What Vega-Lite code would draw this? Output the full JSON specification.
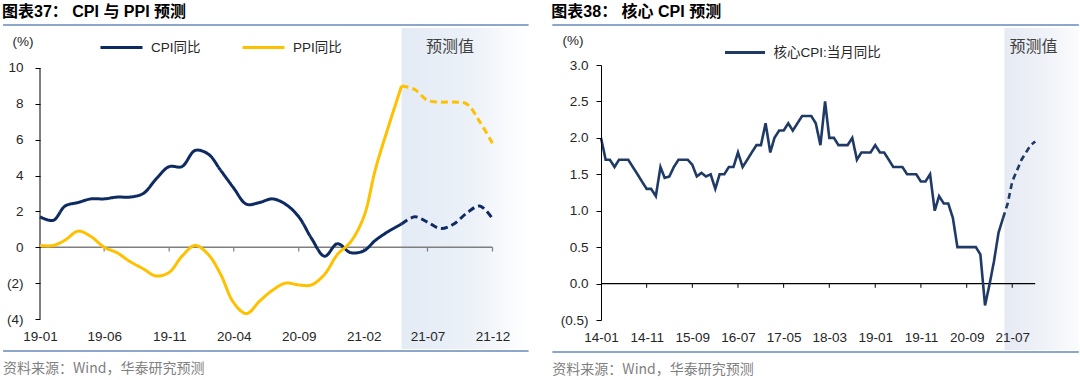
{
  "$schema": "https://vega.github.io/schema/vega-lite/v6.json",
  "padding": {"left": 2, "top": 3, "right": 0, "bottom": 0},
  "spacing": 21,
  "config": {
    "view": {"stroke": null},
    "font": "'Liberation Sans', 'Noto Sans CJK SC', sans-serif",
    "axis": {"grid": false, "labelFontSize": 13.5, "labelColor": "#262626", "labelFont": "'Liberation Sans', sans-serif", "labelOverlap": false},
    "axisX": {"domain": false, "ticks": false, "labelPadding": 10, "labelFlush": false},
    "axisY": {"domainColor": "#000000", "domainWidth": 1, "tickColor": "#000000", "tickSize": 5, "tickWidth": 1, "titleAngle": 0, "titleAlign": "center", "titleBaseline": "middle", "titleFontWeight": "normal", "titleFontSize": 13.5, "titleColor": "#262626", "titleFont": "'Liberation Sans', sans-serif"},
    "legend": {"labelFontSize": 13.5, "labelColor": "#262626", "labelFont": "'Liberation Sans', 'Noto Sans CJK SC', sans-serif", "symbolType": "stroke", "symbolStrokeWidth": 3, "labelOffset": 7, "orient": "none", "direction": "horizontal"},
    "title": {"anchor": "start", "frame": "bounds", "fontSize": 16, "fontWeight": "bold", "color": "#000000", "offset": 4, "font": "'Liberation Sans', 'Noto Sans CJK SC', sans-serif"}
  },
  "resolve": {"scale": {"x": "independent", "y": "independent", "color": "independent", "strokeDash": "independent"}, "legend": {"color": "independent"}},
  "hconcat": [
    {
      "width": 452.5,
      "height": 254,
      "title": {"text": "图表37：   CPI 与 PPI 预测"},
      "layer": [
        {
          "data": {"values": [{"a": "2021/05/01", "b": "2022/02/20", "top": 12.23, "bot": -5.67}]},
          "mark": {"type": "rect", "clip": false, "fill": {"gradient": "linear", "x1": 0, "y1": 0, "x2": 1, "y2": 0, "stops": [{"offset": 0, "color": "#e3ebf5"}, {"offset": 0.55, "color": "#ecf1f8"}, {"offset": 1, "color": "#ffffff"}]}},
          "encoding": {
            "x": {"field": "a", "type": "temporal", "scale": {"domain": [{"year": 2019, "month": 1, "date": 1}, {"year": 2021, "month": 12, "date": 1}]}},
            "x2": {"field": "b"},
            "y": {"field": "top", "type": "quantitative", "scale": {"domain": [-4, 10.167]}},
            "y2": {"field": "bot"}
          }
        },
        {
          "data": {"values": [{"a": "2018/10/06", "b": "2022/02/24", "y": 12.40}, {"a": "2018/10/06", "b": "2022/02/24", "y": -5.785}]},
          "mark": {"type": "rule", "clip": false, "color": "#8ca7c9", "strokeWidth": 2},
          "encoding": {
            "x": {"field": "a", "type": "temporal", "scale": {"domain": [{"year": 2019, "month": 1, "date": 1}, {"year": 2021, "month": 12, "date": 1}]}},
            "x2": {"field": "b"},
            "y": {"field": "y", "type": "quantitative", "scale": {"domain": [-4, 10.167]}}
          }
        },
        {
          "data": {"values": [{"a": "2019/01/01", "b": "2021/12/01", "y": 0}]},
          "mark": {"type": "rule", "clip": false, "color": "#7f7f7f", "strokeWidth": 1.6},
          "encoding": {
            "x": {"field": "a", "type": "temporal", "scale": {"domain": [{"year": 2019, "month": 1, "date": 1}, {"year": 2021, "month": 12, "date": 1}]}},
            "x2": {"field": "b"},
            "y": {"field": "y", "type": "quantitative", "scale": {"domain": [-4, 10.167]}}
          }
        },
        {
          "data": {"values": [{"d": "2019/01/01", "lo": -4, "hi": 10}]},
          "mark": {"type": "rule", "clip": false, "color": "#000000", "strokeWidth": 1},
          "encoding": {
            "x": {"field": "d", "type": "temporal", "scale": {"domain": [{"year": 2019, "month": 1, "date": 1}, {"year": 2021, "month": 12, "date": 1}]}},
            "y": {"field": "lo", "type": "quantitative", "scale": {"domain": [-4, 10.167]}},
            "y2": {"field": "hi"}
          }
        },
        {
          "data": {"values": [{"d": "2019/06/01"}, {"d": "2019/11/01"}, {"d": "2020/04/01"}, {"d": "2020/09/01"}, {"d": "2021/02/01"}, {"d": "2021/07/01"}, {"d": "2021/12/01"}]},
          "mark": {"type": "rule", "clip": false, "color": "#7f7f7f", "strokeWidth": 1.2},
          "encoding": {
            "x": {"field": "d", "type": "temporal", "scale": {"domain": [{"year": 2019, "month": 1, "date": 1}, {"year": 2021, "month": 12, "date": 1}]}},
            "y": {"datum": 0, "type": "quantitative", "scale": {"domain": [-4, 10.167]}},
            "y2": {"datum": -0.24}
          }
        },
        {
          "data": {"values": [
            {"s": "CPI同比", "g": "a", "d": "2019/01/01", "v": 1.7}, {"s": "CPI同比", "g": "a", "d": "2019/02/01", "v": 1.5}, {"s": "CPI同比", "g": "a", "d": "2019/03/01", "v": 2.3}, {"s": "CPI同比", "g": "a", "d": "2019/04/01", "v": 2.5}, {"s": "CPI同比", "g": "a", "d": "2019/05/01", "v": 2.7}, {"s": "CPI同比", "g": "a", "d": "2019/06/01", "v": 2.7}, {"s": "CPI同比", "g": "a", "d": "2019/07/01", "v": 2.8}, {"s": "CPI同比", "g": "a", "d": "2019/08/01", "v": 2.8}, {"s": "CPI同比", "g": "a", "d": "2019/09/01", "v": 3.0}, {"s": "CPI同比", "g": "a", "d": "2019/10/01", "v": 3.8}, {"s": "CPI同比", "g": "a", "d": "2019/11/01", "v": 4.5}, {"s": "CPI同比", "g": "a", "d": "2019/12/01", "v": 4.5},
            {"s": "CPI同比", "g": "a", "d": "2020/01/01", "v": 5.4}, {"s": "CPI同比", "g": "a", "d": "2020/02/01", "v": 5.2}, {"s": "CPI同比", "g": "a", "d": "2020/03/01", "v": 4.3}, {"s": "CPI同比", "g": "a", "d": "2020/04/01", "v": 3.3}, {"s": "CPI同比", "g": "a", "d": "2020/05/01", "v": 2.4}, {"s": "CPI同比", "g": "a", "d": "2020/06/01", "v": 2.5}, {"s": "CPI同比", "g": "a", "d": "2020/07/01", "v": 2.7}, {"s": "CPI同比", "g": "a", "d": "2020/08/01", "v": 2.4}, {"s": "CPI同比", "g": "a", "d": "2020/09/01", "v": 1.7}, {"s": "CPI同比", "g": "a", "d": "2020/10/01", "v": 0.5}, {"s": "CPI同比", "g": "a", "d": "2020/11/01", "v": -0.5}, {"s": "CPI同比", "g": "a", "d": "2020/12/01", "v": 0.2},
            {"s": "CPI同比", "g": "a", "d": "2021/01/01", "v": -0.3}, {"s": "CPI同比", "g": "a", "d": "2021/02/01", "v": -0.2}, {"s": "CPI同比", "g": "a", "d": "2021/03/01", "v": 0.4}, {"s": "CPI同比", "g": "a", "d": "2021/04/01", "v": 0.9}, {"s": "CPI同比", "g": "a", "d": "2021/05/01", "v": 1.3},
            {"s": "CPI同比", "g": "f", "d": "2021/05/01", "v": 1.3}, {"s": "CPI同比", "g": "f", "d": "2021/06/01", "v": 1.7}, {"s": "CPI同比", "g": "f", "d": "2021/07/01", "v": 1.4}, {"s": "CPI同比", "g": "f", "d": "2021/08/01", "v": 1.05}, {"s": "CPI同比", "g": "f", "d": "2021/09/01", "v": 1.3}, {"s": "CPI同比", "g": "f", "d": "2021/10/01", "v": 1.9}, {"s": "CPI同比", "g": "f", "d": "2021/11/01", "v": 2.3}, {"s": "CPI同比", "g": "f", "d": "2021/12/01", "v": 1.6},
            {"s": "PPI同比", "g": "a", "d": "2019/01/01", "v": 0.1}, {"s": "PPI同比", "g": "a", "d": "2019/02/01", "v": 0.1}, {"s": "PPI同比", "g": "a", "d": "2019/03/01", "v": 0.4}, {"s": "PPI同比", "g": "a", "d": "2019/04/01", "v": 0.9}, {"s": "PPI同比", "g": "a", "d": "2019/05/01", "v": 0.6}, {"s": "PPI同比", "g": "a", "d": "2019/06/01", "v": 0.0}, {"s": "PPI同比", "g": "a", "d": "2019/07/01", "v": -0.3}, {"s": "PPI同比", "g": "a", "d": "2019/08/01", "v": -0.8}, {"s": "PPI同比", "g": "a", "d": "2019/09/01", "v": -1.2}, {"s": "PPI同比", "g": "a", "d": "2019/10/01", "v": -1.6}, {"s": "PPI同比", "g": "a", "d": "2019/11/01", "v": -1.4}, {"s": "PPI同比", "g": "a", "d": "2019/12/01", "v": -0.5},
            {"s": "PPI同比", "g": "a", "d": "2020/01/01", "v": 0.1}, {"s": "PPI同比", "g": "a", "d": "2020/02/01", "v": -0.4}, {"s": "PPI同比", "g": "a", "d": "2020/03/01", "v": -1.5}, {"s": "PPI同比", "g": "a", "d": "2020/04/01", "v": -3.1}, {"s": "PPI同比", "g": "a", "d": "2020/05/01", "v": -3.7}, {"s": "PPI同比", "g": "a", "d": "2020/06/01", "v": -3.0}, {"s": "PPI同比", "g": "a", "d": "2020/07/01", "v": -2.4}, {"s": "PPI同比", "g": "a", "d": "2020/08/01", "v": -2.0}, {"s": "PPI同比", "g": "a", "d": "2020/09/01", "v": -2.1}, {"s": "PPI同比", "g": "a", "d": "2020/10/01", "v": -2.1}, {"s": "PPI同比", "g": "a", "d": "2020/11/01", "v": -1.5}, {"s": "PPI同比", "g": "a", "d": "2020/12/01", "v": -0.4},
            {"s": "PPI同比", "g": "a", "d": "2021/01/01", "v": 0.3}, {"s": "PPI同比", "g": "a", "d": "2021/02/01", "v": 1.7}, {"s": "PPI同比", "g": "a", "d": "2021/03/01", "v": 4.4}, {"s": "PPI同比", "g": "a", "d": "2021/04/01", "v": 6.8}, {"s": "PPI同比", "g": "a", "d": "2021/05/01", "v": 9.0},
            {"s": "PPI同比", "g": "f", "d": "2021/05/01", "v": 9.0}, {"s": "PPI同比", "g": "f", "d": "2021/06/01", "v": 8.8}, {"s": "PPI同比", "g": "f", "d": "2021/07/01", "v": 8.2}, {"s": "PPI同比", "g": "f", "d": "2021/08/01", "v": 8.1}, {"s": "PPI同比", "g": "f", "d": "2021/09/01", "v": 8.1}, {"s": "PPI同比", "g": "f", "d": "2021/10/01", "v": 8.0}, {"s": "PPI同比", "g": "f", "d": "2021/11/01", "v": 7.0}, {"s": "PPI同比", "g": "f", "d": "2021/12/01", "v": 5.8}
          ]},
          "mark": {"type": "line", "strokeWidth": 3, "interpolate": "catmull-rom", "clip": false},
          "encoding": {
            "x": {"field": "d", "type": "temporal", "scale": {"domain": [{"year": 2019, "month": 1, "date": 1}, {"year": 2021, "month": 12, "date": 1}]},
                  "axis": {"title": null, "zindex": 1, "tickCount": 40, "labelOverlap": false, "format": "%y-%m", "values": [{"year": 2019, "month": 1, "date": 1}, {"year": 2019, "month": 6, "date": 1}, {"year": 2019, "month": 11, "date": 1}, {"year": 2020, "month": 4, "date": 1}, {"year": 2020, "month": 9, "date": 1}, {"year": 2021, "month": 2, "date": 1}, {"year": 2021, "month": 7, "date": 1}, {"year": 2021, "month": 12, "date": 1}]}},
            "y": {"field": "v", "type": "quantitative", "scale": {"domain": [-4, 10.167]},
                  "axis": {"title": "(%)", "domain": false, "zindex": 1, "tickCount": 40, "titleX": -17.5, "titleY": -24, "values": [-4, -2, 0, 2, 4, 6, 8, 10], "labelPadding": 12, "labelOverlap": false, "labelExpr": "datum.value < 0 ? '(' + abs(datum.value) + ')' : '' + datum.value"}},
            "color": {"field": "s", "type": "nominal", "scale": {"domain": ["CPI同比", "PPI同比"], "range": ["#0d2a62", "#ffc000"]},
                      "legend": {"title": null, "legendX": 59, "legendY": -40, "symbolSize": 1764, "columnPadding": 35}},
            "strokeDash": {"field": "g", "type": "nominal", "scale": {"domain": ["a", "f"], "range": [[1, 0], [7, 4]]}, "legend": null}
          }
        },
        {
          "data": {"values": [{"d": "2021/08/23", "y": 11.17, "t": "预测值"}]},
          "mark": {"type": "text", "fontSize": 16, "color": "#404040", "align": "center", "baseline": "middle", "font": "'Noto Sans CJK SC', sans-serif", "clip": false},
          "encoding": {
            "x": {"field": "d", "type": "temporal", "scale": {"domain": [{"year": 2019, "month": 1, "date": 1}, {"year": 2021, "month": 12, "date": 1}]}},
            "y": {"field": "y", "type": "quantitative", "scale": {"domain": [-4, 10.167]}},
            "text": {"field": "t"}
          }
        },
        {
          "data": {"values": [{"d": "2018/10/06", "y": -6.79, "t": "资料来源：Wind，华泰研究预测"}]},
          "mark": {"type": "text", "fontSize": 14, "color": "#7f7f7f", "align": "left", "baseline": "middle", "font": "'Noto Sans CJK SC', sans-serif", "clip": false},
          "encoding": {
            "x": {"field": "d", "type": "temporal", "scale": {"domain": [{"year": 2019, "month": 1, "date": 1}, {"year": 2021, "month": 12, "date": 1}]}},
            "y": {"field": "y", "type": "quantitative", "scale": {"domain": [-4, 10.167]}},
            "text": {"field": "t"}
          }
        }
      ]
    },
    {
      "width": 434.2,
      "height": 255,
      "title": {"text": "图表38：   核心 CPI 预测"},
      "layer": [
        {
          "data": {"values": [{"a": "2021/05/10", "b": "2022/09/18", "top": 3.508, "bot": -0.912}]},
          "mark": {"type": "rect", "clip": false, "fill": {"gradient": "linear", "x1": 0, "y1": 0, "x2": 1, "y2": 0, "stops": [{"offset": 0, "color": "#e6eaf3"}, {"offset": 0.5, "color": "#eef1f7"}, {"offset": 1, "color": "#fbfcfd"}]}},
          "encoding": {
            "x": {"field": "a", "type": "temporal", "scale": {"domain": [{"year": 2014, "month": 1, "date": 1}, {"year": 2021, "month": 12, "date": 1}]}},
            "x2": {"field": "b"},
            "y": {"field": "top", "type": "quantitative", "scale": {"domain": [-0.5, 3]}},
            "y2": {"field": "bot"}
          }
        },
        {
          "data": {"values": [{"a": "2013/02/11", "b": "2022/09/18", "y": 3.549}, {"a": "2013/02/11", "b": "2022/09/18", "y": -0.939}]},
          "mark": {"type": "rule", "clip": false, "color": "#8ca7c9", "strokeWidth": 2},
          "encoding": {
            "x": {"field": "a", "type": "temporal", "scale": {"domain": [{"year": 2014, "month": 1, "date": 1}, {"year": 2021, "month": 12, "date": 1}]}},
            "x2": {"field": "b"},
            "y": {"field": "y", "type": "quantitative", "scale": {"domain": [-0.5, 3]}}
          }
        },
        {
          "data": {"values": [{"a": "2014/01/01", "b": "2021/12/01", "y": 0}]},
          "mark": {"type": "rule", "clip": false, "color": "#000000", "strokeWidth": 1.2},
          "encoding": {
            "x": {"field": "a", "type": "temporal", "scale": {"domain": [{"year": 2014, "month": 1, "date": 1}, {"year": 2021, "month": 12, "date": 1}]}},
            "x2": {"field": "b"},
            "y": {"field": "y", "type": "quantitative", "scale": {"domain": [-0.5, 3]}}
          }
        },
        {
          "data": {"values": [{"d": "2014/11/01"}, {"d": "2015/09/01"}, {"d": "2016/07/01"}, {"d": "2017/05/01"}, {"d": "2018/03/01"}, {"d": "2019/01/01"}, {"d": "2019/11/01"}, {"d": "2020/09/01"}, {"d": "2021/07/01"}]},
          "mark": {"type": "rule", "clip": false, "color": "#000000", "strokeWidth": 1},
          "encoding": {
            "x": {"field": "d", "type": "temporal", "scale": {"domain": [{"year": 2014, "month": 1, "date": 1}, {"year": 2021, "month": 12, "date": 1}]}},
            "y": {"datum": 0, "type": "quantitative", "scale": {"domain": [-0.5, 3]}},
            "y2": {"datum": -0.058}
          }
        },
        {
          "data": {"values": [
            {"g": "a", "d": "2014/01/01", "v": 2.0}, {"g": "a", "d": "2014/02/01", "v": 1.7}, {"g": "a", "d": "2014/03/01", "v": 1.7}, {"g": "a", "d": "2014/04/01", "v": 1.6}, {"g": "a", "d": "2014/05/01", "v": 1.7}, {"g": "a", "d": "2014/06/01", "v": 1.7}, {"g": "a", "d": "2014/07/01", "v": 1.7}, {"g": "a", "d": "2014/08/01", "v": 1.6}, {"g": "a", "d": "2014/09/01", "v": 1.5}, {"g": "a", "d": "2014/10/01", "v": 1.4}, {"g": "a", "d": "2014/11/01", "v": 1.3}, {"g": "a", "d": "2014/12/01", "v": 1.3},
            {"g": "a", "d": "2015/01/01", "v": 1.2}, {"g": "a", "d": "2015/02/01", "v": 1.6}, {"g": "a", "d": "2015/03/01", "v": 1.45}, {"g": "a", "d": "2015/04/01", "v": 1.47}, {"g": "a", "d": "2015/05/01", "v": 1.6}, {"g": "a", "d": "2015/06/01", "v": 1.7}, {"g": "a", "d": "2015/07/01", "v": 1.7}, {"g": "a", "d": "2015/08/01", "v": 1.7}, {"g": "a", "d": "2015/09/01", "v": 1.63}, {"g": "a", "d": "2015/10/01", "v": 1.47}, {"g": "a", "d": "2015/11/01", "v": 1.52}, {"g": "a", "d": "2015/12/01", "v": 1.47},
            {"g": "a", "d": "2016/01/01", "v": 1.5}, {"g": "a", "d": "2016/02/01", "v": 1.3}, {"g": "a", "d": "2016/03/01", "v": 1.5}, {"g": "a", "d": "2016/04/01", "v": 1.5}, {"g": "a", "d": "2016/05/01", "v": 1.6}, {"g": "a", "d": "2016/06/01", "v": 1.6}, {"g": "a", "d": "2016/07/01", "v": 1.8}, {"g": "a", "d": "2016/08/01", "v": 1.6}, {"g": "a", "d": "2016/09/01", "v": 1.7}, {"g": "a", "d": "2016/10/01", "v": 1.8}, {"g": "a", "d": "2016/11/01", "v": 1.9}, {"g": "a", "d": "2016/12/01", "v": 1.9},
            {"g": "a", "d": "2017/01/01", "v": 2.2}, {"g": "a", "d": "2017/02/01", "v": 1.8}, {"g": "a", "d": "2017/03/01", "v": 2.0}, {"g": "a", "d": "2017/04/01", "v": 2.1}, {"g": "a", "d": "2017/05/01", "v": 2.1}, {"g": "a", "d": "2017/06/01", "v": 2.2}, {"g": "a", "d": "2017/07/01", "v": 2.1}, {"g": "a", "d": "2017/08/01", "v": 2.2}, {"g": "a", "d": "2017/09/01", "v": 2.3}, {"g": "a", "d": "2017/10/01", "v": 2.3}, {"g": "a", "d": "2017/11/01", "v": 2.3}, {"g": "a", "d": "2017/12/01", "v": 2.2},
            {"g": "a", "d": "2018/01/01", "v": 1.9}, {"g": "a", "d": "2018/02/01", "v": 2.5}, {"g": "a", "d": "2018/03/01", "v": 2.0}, {"g": "a", "d": "2018/04/01", "v": 2.0}, {"g": "a", "d": "2018/05/01", "v": 1.9}, {"g": "a", "d": "2018/06/01", "v": 1.9}, {"g": "a", "d": "2018/07/01", "v": 1.9}, {"g": "a", "d": "2018/08/01", "v": 2.0}, {"g": "a", "d": "2018/09/01", "v": 1.7}, {"g": "a", "d": "2018/10/01", "v": 1.8}, {"g": "a", "d": "2018/11/01", "v": 1.8}, {"g": "a", "d": "2018/12/01", "v": 1.8},
            {"g": "a", "d": "2019/01/01", "v": 1.9}, {"g": "a", "d": "2019/02/01", "v": 1.8}, {"g": "a", "d": "2019/03/01", "v": 1.8}, {"g": "a", "d": "2019/04/01", "v": 1.7}, {"g": "a", "d": "2019/05/01", "v": 1.6}, {"g": "a", "d": "2019/06/01", "v": 1.6}, {"g": "a", "d": "2019/07/01", "v": 1.6}, {"g": "a", "d": "2019/08/01", "v": 1.5}, {"g": "a", "d": "2019/09/01", "v": 1.5}, {"g": "a", "d": "2019/10/01", "v": 1.5}, {"g": "a", "d": "2019/11/01", "v": 1.4}, {"g": "a", "d": "2019/12/01", "v": 1.4},
            {"g": "a", "d": "2020/01/01", "v": 1.5}, {"g": "a", "d": "2020/02/01", "v": 1.0}, {"g": "a", "d": "2020/03/01", "v": 1.2}, {"g": "a", "d": "2020/04/01", "v": 1.1}, {"g": "a", "d": "2020/05/01", "v": 1.1}, {"g": "a", "d": "2020/06/01", "v": 0.9}, {"g": "a", "d": "2020/07/01", "v": 0.5}, {"g": "a", "d": "2020/08/01", "v": 0.5}, {"g": "a", "d": "2020/09/01", "v": 0.5}, {"g": "a", "d": "2020/10/01", "v": 0.5}, {"g": "a", "d": "2020/11/01", "v": 0.5}, {"g": "a", "d": "2020/12/01", "v": 0.4},
            {"g": "a", "d": "2021/01/01", "v": -0.3}, {"g": "a", "d": "2021/02/01", "v": 0.0}, {"g": "a", "d": "2021/03/01", "v": 0.3}, {"g": "a", "d": "2021/04/01", "v": 0.7}, {"g": "a", "d": "2021/05/01", "v": 0.9},
            {"g": "f", "d": "2021/05/01", "v": 0.9}, {"g": "f", "d": "2021/06/01", "v": 1.1}, {"g": "f", "d": "2021/07/01", "v": 1.4}, {"g": "f", "d": "2021/08/01", "v": 1.55}, {"g": "f", "d": "2021/09/01", "v": 1.7}, {"g": "f", "d": "2021/10/01", "v": 1.8}, {"g": "f", "d": "2021/11/01", "v": 1.9}, {"g": "f", "d": "2021/12/01", "v": 1.95}
          ]},
          "transform": [{"calculate": "'核心CPI:当月同比'", "as": "s"}],
          "mark": {"type": "line", "strokeWidth": 2.6, "clip": false},
          "encoding": {
            "x": {"field": "d", "type": "temporal", "scale": {"domain": [{"year": 2014, "month": 1, "date": 1}, {"year": 2021, "month": 12, "date": 1}]},
                  "axis": {"title": null, "zindex": 1, "tickCount": 40, "labelOverlap": false, "format": "%y-%m", "values": [{"year": 2014, "month": 1, "date": 1}, {"year": 2014, "month": 11, "date": 1}, {"year": 2015, "month": 9, "date": 1}, {"year": 2016, "month": 7, "date": 1}, {"year": 2017, "month": 5, "date": 1}, {"year": 2018, "month": 3, "date": 1}, {"year": 2019, "month": 1, "date": 1}, {"year": 2019, "month": 11, "date": 1}, {"year": 2020, "month": 9, "date": 1}, {"year": 2021, "month": 7, "date": 1}]}},
            "y": {"field": "v", "type": "quantitative", "scale": {"domain": [-0.5, 3]},
                  "axis": {"title": "(%)", "zindex": 1, "tickCount": 40, "titleX": -28.4, "titleY": -25, "values": [-0.5, 0, 0.5, 1, 1.5, 2, 2.5, 3], "labelPadding": 8, "labelOverlap": false, "labelExpr": "datum.value < 0 ? '(' + format(-datum.value, '.1f') + ')' : format(datum.value, '.1f')"}},
            "color": {"field": "s", "type": "nominal", "scale": {"domain": ["核心CPI:当月同比"], "range": ["#203a66"]},
                      "legend": {"title": null, "legendX": 122.5, "legendY": -34, "symbolSize": 1600}},
            "strokeDash": {"field": "g", "type": "nominal", "scale": {"domain": ["a", "f"], "range": [[1, 0], [6, 4]]}, "legend": null}
          }
        },
        {
          "data": {"values": [{"d": "2021/11/20", "y": 3.247, "t": "预测值"}]},
          "mark": {"type": "text", "fontSize": 16, "color": "#404040", "align": "center", "baseline": "middle", "font": "'Noto Sans CJK SC', sans-serif", "clip": false},
          "encoding": {
            "x": {"field": "d", "type": "temporal", "scale": {"domain": [{"year": 2014, "month": 1, "date": 1}, {"year": 2021, "month": 12, "date": 1}]}},
            "y": {"field": "y", "type": "quantitative", "scale": {"domain": [-0.5, 3]}},
            "text": {"field": "t"}
          }
        },
        {
          "data": {"values": [{"d": "2013/02/11", "y": -1.186, "t": "资料来源：Wind，华泰研究预测"}]},
          "mark": {"type": "text", "fontSize": 14, "color": "#7f7f7f", "align": "left", "baseline": "middle", "font": "'Noto Sans CJK SC', sans-serif", "clip": false},
          "encoding": {
            "x": {"field": "d", "type": "temporal", "scale": {"domain": [{"year": 2014, "month": 1, "date": 1}, {"year": 2021, "month": 12, "date": 1}]}},
            "y": {"field": "y", "type": "quantitative", "scale": {"domain": [-0.5, 3]}},
            "text": {"field": "t"}
          }
        }
      ]
    }
  ]
}
